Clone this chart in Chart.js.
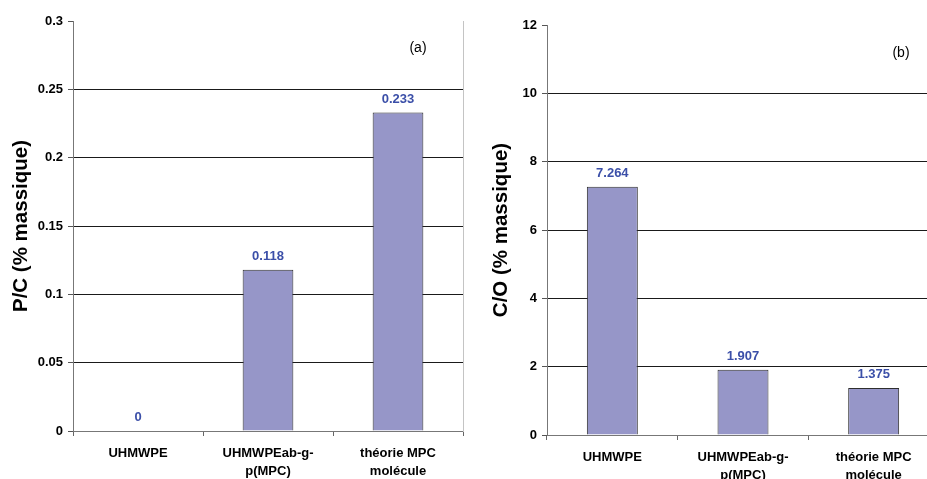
<!DOCTYPE html>
<html>
<head>
<meta charset="utf-8">
<script src="https://cdn.jsdelivr.net/npm/chart.js@4/dist/chart.umd.min.js"></script>
<style>
  html, body { margin: 0; padding: 0; background: #ffffff; }
  body { width: 927px; height: 479px; overflow: hidden; position: relative; }
  canvas { position: absolute; top: 0; }
  #chartPC { left: 0; }
  #chartCO { left: 470px; }
</style>
</head>
<body>
<canvas id="chartPC" width="470" height="479"></canvas>
<canvas id="chartCO" width="480" height="483"></canvas>
<script>
// Sample categories shared by both panels
const categories = ['UHMWPE', ['UHMWPEab-g-', 'p(MPC)'], ['théorie MPC', 'molécule']];

// Panel (a): phosphorus / carbon mass ratio
const pcValues = [0, 0.118, 0.233];
const pcTicks = [0, 0.05, 0.1, 0.15, 0.2, 0.25, 0.3];

// Panel (b): carbon / oxygen mass ratio
const coValues = [7.264, 1.907, 1.375];
const coTicks = [0, 2, 4, 6, 8, 10, 12];

const FONT = "'Liberation Sans', Arial, sans-serif";
const BAR_FILL = '#9696c8';
const BAR_EDGE = '#2e2e2e';
const VALUE_COLOR = '#3b4fa8';

// Writes each bar's value just above it
const valueLabels = {
  id: 'valueLabels',
  afterDatasetsDraw(chart) {
    const ctx = chart.ctx;
    const meta = chart.getDatasetMeta(0);
    const data = chart.data.datasets[0].data;
    ctx.save();
    ctx.font = 'bold 13px ' + FONT;
    ctx.fillStyle = VALUE_COLOR;
    ctx.textAlign = 'center';
    ctx.textBaseline = 'alphabetic';
    meta.data.forEach((bar, i) => {
      ctx.fillText(String(data[i]), bar.x, bar.y - 10);
    });
    ctx.restore();
  }
};

// Panel tag such as "(a)" in the upper right of the plot
const panelTag = {
  id: 'panelTag',
  afterDraw(chart, args, opts) {
    const a = chart.chartArea;
    const ctx = chart.ctx;
    ctx.save();
    ctx.font = '14px ' + FONT;
    ctx.fillStyle = '#000000';
    ctx.textAlign = 'center';
    ctx.textBaseline = 'middle';
    ctx.fillText(opts.text, a.right - opts.dx, a.top + opts.dy);
    ctx.restore();
  }
};

function makeChart(id, values, ticks, title, tag, layout) {
  const top = ticks[ticks.length - 1];
  return new Chart(document.getElementById(id), {
    type: 'bar',
    data: {
      labels: categories,
      datasets: [{
        data: values,
        backgroundColor: BAR_FILL,
        borderColor: BAR_EDGE,
        borderWidth: 1,
        categoryPercentage: 1,
        barPercentage: 0.39
      }]
    },
    options: {
      responsive: false,
      animation: false,
      devicePixelRatio: 1,
      layout: { padding: { top: layout.top, right: layout.right, bottom: 0, left: 0 } },
      plugins: {
        legend: { display: false },
        tooltip: { enabled: false },
        panelTag: { text: tag, dx: layout.tagDx, dy: layout.tagDy }
      },
      scales: {
        x: {
          offset: true,
          grid: {
            offset: true,
            drawOnChartArea: false,
            drawTicks: true,
            tickLength: 5,
            tickColor: '#666666'
          },
          border: { display: true, color: '#777777', width: 1 },
          ticks: {
            color: '#000000',
            padding: 8,
            maxRotation: 0,
            autoSkip: false,
            font: { family: FONT, size: 13, weight: 'bold', lineHeight: 1.4 }
          },
          afterFit(scale) { scale.height = 48; }
        },
        y: {
          min: 0,
          max: top,
          afterBuildTicks(scale) { scale.ticks = ticks.map(v => ({ value: v })); },
          grid: {
            color: ctx => (ctx.tick && (ctx.tick.value === 0 || ctx.tick.value === top)) ? 'rgba(0,0,0,0)' : '#1a1a1a',
            lineWidth: 1,
            drawTicks: true,
            tickLength: 5,
            tickColor: '#555555'
          },
          border: { display: true, color: '#777777', width: 1 },
          ticks: {
            color: '#000000',
            padding: 5,
            font: { family: FONT, size: 13, weight: 'bold' },
            callback: v => String(v)
          },
          title: {
            display: true,
            text: title,
            color: '#000000',
            font: { family: FONT, size: 20.5, weight: 'bold', lineHeight: 1.2 },
            padding: { top: layout.titlePad, bottom: 0 }
          },
          afterFit(scale) { scale.width = layout.axisWidth; }
        },
        frame: {
          position: 'right',
          min: 0,
          max: top,
          grid: { drawOnChartArea: false, drawTicks: false },
          border: { display: true, color: '#c4c4c4', width: 1 },
          ticks: { display: false },
          afterFit(scale) { scale.width = 0; }
        }
      }
    },
    plugins: [valueLabels, panelTag]
  });
}

makeChart('chartPC', pcValues, pcTicks, 'P/C (% massique)', '(a)',
  { top: 21, right: 7, axisWidth: 73, titlePad: 9, tagDx: 45, tagDy: 27 });
makeChart('chartCO', coValues, coTicks, 'C/O (% massique)', '(b)',
  { top: 25, right: 11, axisWidth: 77, titlePad: 19, tagDx: 38, tagDy: 28 });
</script>
</body>
</html>
